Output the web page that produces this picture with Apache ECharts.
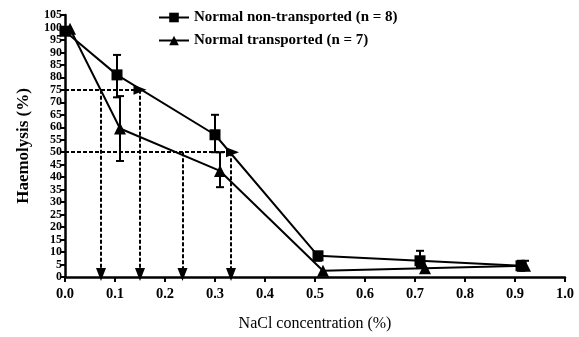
<!DOCTYPE html>
<html>
<head>
<meta charset="utf-8">
<script src="https://cdn.jsdelivr.net/npm/echarts@6/dist/echarts.min.js"></script>
<style>
  html, body { margin: 0; padding: 0; background: #fff; }
  #chart { width: 579px; height: 337px; }
</style>
</head>
<body>
<div id="chart"></div>
<script>
// 数据：NaCl 浓度 -> 溶血率
var seriesNames = ['Normal non-transported (n = 8)', 'Normal transported (n = 7)'];
var nonTransX = [0.0, 0.104, 0.30, 0.506, 0.71, 0.912];
var nonTransY = [98.5, 81, 57, 8.5, 6.5, 4.5];
var nonTransLow = [98.5, 72, 50, 6.5, 4, 2.5];
var nonTransHigh = [98.5, 89, 65, 10, 10.5, 6.5];
var transX = [0.01, 0.11, 0.31, 0.516, 0.72, 0.92];
var transY = [99.5, 59.5, 42.5, 2.5, 3.5, 4.5];
var transLow = [99.5, 46.5, 36, 2.5, 3.5, 3];
var transHigh = [99.5, 72.5, 50, 2.5, 3.5, 6.5];
// 虚线箭头 [起点x, 起点y, 终点x, 终点y]
var arrows = [
    [0, 75, 0.15, 75],
    [0, 50, 0.335, 50],
    [0.072, 75, 0.072, 1],
    [0.15, 75, 0.15, 1],
    [0.235, 50, 0.235, 1],
    [0.332, 50, 0.332, 1]
];

var font = 'Liberation Serif';

function pairs(xs, ys) {
    var out = [];
    for (var i = 0; i < xs.length; i++) out.push([xs[i], ys[i]]);
    return out;
}
function errData(xs, lo, hi) {
    var out = [];
    for (var i = 0; i < xs.length; i++) {
        if (hi[i] > lo[i]) out.push([xs[i], lo[i], hi[i]]);
    }
    return out;
}
function renderErr(params, api) {
    var x = api.value(0);
    var p1 = api.coord([x, api.value(1)]);
    var p2 = api.coord([x, api.value(2)]);
    var cap = 4;
    var st = { stroke: '#000', lineWidth: 2 };
    return {
        type: 'group',
        children: [
            { type: 'line', shape: { x1: p1[0], y1: p1[1], x2: p2[0], y2: p2[1] }, style: st },
            { type: 'line', shape: { x1: p1[0] - cap, y1: p1[1], x2: p1[0] + cap, y2: p1[1] }, style: st },
            { type: 'line', shape: { x1: p2[0] - cap, y1: p2[1], x2: p2[0] + cap, y2: p2[1] }, style: st }
        ]
    };
}

var arrowLines = [];
for (let a of arrows) {
    arrowLines.push([{ coord: [a[0], a[1]] }, { coord: [a[2], a[3]] }]);
}

var mychart = echarts.init(document.getElementById('chart'));
var option = {
    animation: false,
    grid: { left: 65, right: 14, top: 15, bottom: 59 },
    legend: {
        orient: 'vertical',
        left: 153,
        top: 5,
        itemWidth: 30,
        itemHeight: 12,
        itemGap: 8,
        data: seriesNames,
        textStyle: { fontFamily: font, fontWeight: 'bold', fontSize: 15, color: '#000' }
    },
    xAxis: {
        type: 'value',
        min: 0,
        max: 1,
        interval: 0.1,
        name: 'NaCl concentration (%)',
        nameLocation: 'middle',
        nameGap: 39,
        nameTextStyle: { fontFamily: font, fontSize: 16, color: '#000' },
        splitLine: { show: false },
        axisLine: { lineStyle: { color: '#000', width: 2.5 } },
        axisTick: { length: 5, lineStyle: { color: '#000', width: 2 } },
        axisLabel: {
            fontFamily: font, fontWeight: 'bold', fontSize: 14.5, color: '#000', margin: 10,
            showMinLabel: true, showMaxLabel: true,
            formatter: function (v) { return v.toFixed(1); }
        }
    },
    yAxis: {
        type: 'value',
        min: 0,
        max: 105,
        interval: 5,
        name: 'Haemolysis (%)',
        nameLocation: 'middle',
        nameGap: 33,
        nameTextStyle: { fontFamily: font, fontWeight: 'bold', fontSize: 17, color: '#000' },
        splitLine: { show: false },
        axisLine: { show: true, lineStyle: { color: '#000', width: 2.5 } },
        axisTick: { show: true, length: 4, lineStyle: { color: '#000', width: 2 } },
        axisLabel: {
            fontFamily: font, fontWeight: 'bold', fontSize: 12, color: '#000', margin: 3,
            showMinLabel: true, showMaxLabel: true
        }
    },
    series: [
        {
            name: seriesNames[0],
            type: 'line',
            data: pairs(nonTransX, nonTransY),
            symbol: 'rect',
            symbolSize: 11,
            itemStyle: { color: '#000' },
            lineStyle: { color: '#000', width: 2 },
            z: 3
        },
        {
            name: seriesNames[1],
            type: 'line',
            data: pairs(transX, transY),
            symbol: 'triangle',
            symbolSize: 12,
            itemStyle: { color: '#000' },
            lineStyle: { color: '#000', width: 2 },
            z: 3
        },
        {
            type: 'custom',
            renderItem: renderErr,
            data: errData(nonTransX, nonTransLow, nonTransHigh),
            z: 2
        },
        {
            type: 'custom',
            renderItem: renderErr,
            data: errData(transX, transLow, transHigh),
            z: 2
        },
        {
            type: 'line',
            data: [],
            markLine: {
                silent: true,
                symbol: ['none', 'triangle'],
                symbolSize: [10, 13],
                label: { show: false },
                lineStyle: { color: '#000', width: 2, type: [4, 2] },
                data: arrowLines
            }
        }
    ]
};
mychart.setOption(option);
</script>
</body>
</html>
